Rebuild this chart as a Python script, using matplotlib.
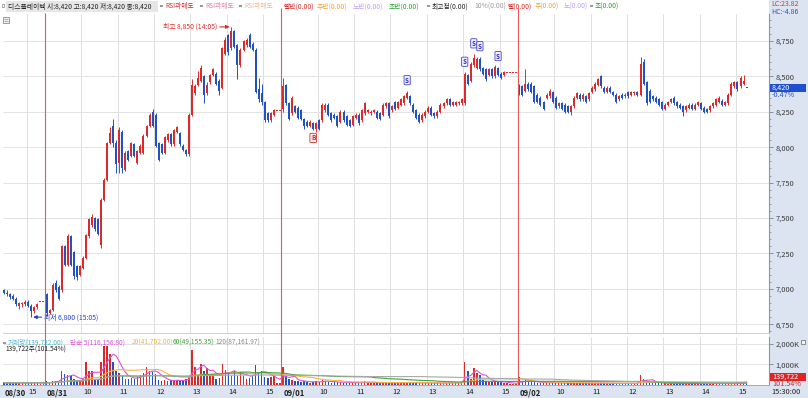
import numpy as np
import pandas as pd
import matplotlib
matplotlib.use("Agg")
import matplotlib.pyplot as plt
import matplotlib.transforms as mtrans
from matplotlib.patches import Rectangle

plt.rcParams['font.family'] = ['Noto Sans CJK KR', 'DejaVu Sans']

# ---------------- data ----------------
day_labels = ["08/30", "08/31", "09/01", "09/02"]

# 5-minute candles (open, high, low, close); 08/30 starts 14:20, others 09:00
aug30 = [(6990,7000,6960,6970),(6970,6990,6950,6960),(6960,6970,6930,6940),(6950,6960,6920,6930),
         (6930,6940,6880,6890),(6880,6910,6860,6900),(6890,6910,6870,6900),(6890,6920,6880,6910),
         (6910,6920,6870,6880),(6880,6890,6800,6840),(6840,6880,6830,6870),(6870,6900,6860,6890),
         (6910,6910,6910,6910),(6910,6910,6910,6910)]

aug31 = [(6960,6970,6810,6830),(6830,6860,6820,6850),(6850,7040,6840,7030),(7040,7060,6980,6990),
         (7010,7030,6920,6930),(6990,7310,6980,7300),(7300,7310,7160,7170),(7170,7390,7160,7370),
         (7370,7380,7160,7170),(7260,7270,7070,7090),(7160,7170,7060,7080),(7100,7170,7090,7160),
         (7150,7230,7140,7220),(7220,7390,7210,7380),(7370,7500,7360,7490),(7450,7530,7440,7510),
         (7500,7510,7410,7420),(7490,7500,7380,7390),(7310,7640,7290,7630),(7630,7780,7620,7770),
         (7770,8040,7760,8030),(8030,8140,8020,8100),(8150,8200,8000,8030),(8030,8050,7820,7880),
         (7890,8140,7820,8120),(8110,8120,7820,7850),(7840,7970,7830,7960),(7970,7980,7900,7910),
         (7940,8040,7930,8030),(8020,8030,7930,7940),(7890,7980,7880,7970),(7960,8020,7950,8010),
         (7960,8090,7950,8080),(8080,8160,8070,8150),(8150,8240,8140,8230),(8250,8270,8140,8150),
         (8230,8240,8000,8010),(8030,8040,7900,7910),(8020,8030,7950,7960),(7960,8080,7950,8070),
         (8050,8100,8040,8090),(8090,8100,8010,8020),(8020,8130,8010,8120),(8110,8150,8100,8140),
         (8100,8110,8010,8020),(8010,8020,7970,7980),(7980,7990,7940,7950),(7950,8240,7940,8230),
         (8230,8480,8220,8440),(8380,8450,8370,8430),(8440,8540,8430,8490),(8470,8580,8460,8560),
         (8500,8510,8310,8370),(8380,8460,8370,8440),(8460,8520,8450,8510),(8510,8560,8500,8550),
         (8520,8530,8440,8450),(8470,8480,8370,8400),(8420,8710,8410,8700),(8660,8780,8650,8760),
         (8790,8800,8650,8670),(8700,8850,8690,8820),(8820,8830,8700,8710),(8720,8730,8480,8580),
         (8580,8700,8570,8690),(8690,8760,8680,8750),(8720,8770,8710,8760),(8790,8810,8700,8710),
         (8730,8740,8680,8690),(8690,8700,8380,8390),(8410,8490,8320,8340),(8380,8450,8300,8320),
         (8320,8330,8180,8190),(8240,8250,8180,8190),(8190,8250,8180,8240),(8230,8270,8220,8260),
         (8260,8260,8260,8260),(8260,8260,8260,8260)]

sep01 = [(8270,8490,8250,8430),(8440,8450,8300,8310),(8310,8320,8190,8200),(8240,8360,8230,8350),
         (8290,8300,8240,8250),(8280,8290,8200,8210),(8260,8270,8190,8200),(8200,8210,8130,8150),
         (8180,8190,8140,8150),(8150,8190,8140,8180),(8170,8180,8120,8130),(8130,8180,8110,8170),
         (8190,8200,8120,8130),(8190,8310,8180,8300),(8260,8310,8250,8300),(8300,8310,8220,8230),
         (8240,8250,8180,8190),(8230,8240,8200,8210),(8220,8230,8140,8150),(8180,8260,8170,8250),
         (8250,8260,8180,8190),(8220,8230,8150,8160),(8190,8200,8140,8150),(8160,8230,8150,8220),
         (8210,8240,8200,8230),(8230,8240,8160,8170),(8190,8270,8180,8260),(8240,8320,8230,8310),
         (8250,8270,8240,8260),(8240,8260,8230,8250),(8250,8270,8240,8260),(8250,8260,8200,8210),
         (8240,8250,8190,8200),(8230,8310,8220,8300),(8290,8320,8280,8310),(8310,8320,8210,8220),
         (8260,8300,8250,8290),(8320,8330,8260,8270),(8280,8330,8270,8320),(8300,8350,8290,8340),
         (8310,8370,8300,8360),(8350,8400,8340,8380),(8360,8370,8300,8310),(8300,8310,8240,8250),
         (8260,8270,8200,8210),(8230,8240,8170,8180),(8190,8240,8180,8230),(8220,8260,8210,8250),
         (8250,8290,8240,8280),(8280,8290,8220,8230),(8240,8250,8210,8220),(8220,8260,8210,8250),
         (8250,8310,8240,8300),(8290,8320,8280,8310),(8310,8350,8300,8340),(8340,8350,8290,8300),
         (8300,8330,8290,8320),(8300,8330,8290,8320),(8310,8330,8300,8320),(8310,8350,8300,8340),
         (8310,8530,8300,8520),(8510,8520,8440,8450),(8470,8600,8460,8590),(8580,8660,8570,8630),
         (8560,8640,8550,8620),(8620,8640,8540,8550),(8560,8570,8510,8520),(8550,8560,8470,8480),
         (8510,8560,8500,8550),(8550,8560,8490,8500),(8500,8580,8490,8570),(8560,8570,8500,8510),
         (8520,8530,8480,8490),(8510,8540,8500,8530),(8530,8530,8530,8530),(8530,8530,8530,8530),
         (8530,8530,8530,8530),(8530,8530,8530,8530)]

sep02 = [(8440,8450,8370,8380),(8430,8440,8360,8370),(8400,8550,8390,8450),(8450,8460,8400,8410),
         (8450,8460,8380,8390),(8430,8440,8310,8320),(8370,8380,8310,8320),(8350,8360,8290,8300),
         (8320,8330,8260,8270),(8350,8380,8340,8370),(8360,8410,8350,8400),(8390,8400,8310,8320),
         (8350,8360,8270,8280),(8290,8320,8280,8310),(8310,8320,8260,8270),(8300,8310,8240,8250),
         (8290,8300,8240,8250),(8250,8300,8230,8290),(8290,8360,8280,8350),(8350,8390,8340,8380),
         (8370,8380,8330,8340),(8340,8380,8330,8370),(8360,8370,8310,8320),(8340,8390,8330,8380),
         (8390,8430,8380,8420),(8410,8460,8400,8450),(8440,8490,8430,8480),(8500,8510,8420,8430),
         (8420,8430,8380,8390),(8390,8430,8380,8420),(8420,8430,8380,8390),(8390,8400,8360,8370),
         (8370,8380,8310,8320),(8340,8370,8330,8360),(8370,8380,8340,8350),(8360,8380,8350,8370),
         (8390,8400,8350,8360),(8370,8400,8360,8390),(8380,8400,8370,8390),(8390,8400,8360,8370),
         (8370,8640,8360,8590),(8600,8620,8440,8450),(8460,8470,8300,8310),(8400,8410,8310,8320),
         (8360,8370,8330,8340),(8350,8360,8310,8320),(8340,8350,8290,8300),(8320,8330,8260,8270),
         (8270,8310,8260,8300),(8300,8330,8290,8320),(8320,8350,8310,8340),(8350,8360,8300,8310),
         (8320,8330,8280,8290),(8300,8310,8270,8280),(8290,8300,8220,8250),(8260,8300,8250,8290),
         (8280,8310,8270,8300),(8300,8310,8260,8270),(8270,8310,8260,8300),(8300,8330,8290,8320),
         (8310,8320,8260,8270),(8280,8290,8240,8250),(8270,8280,8240,8250),(8260,8300,8250,8290),
         (8290,8320,8280,8310),(8300,8350,8290,8340),(8320,8360,8310,8350),(8330,8340,8290,8300),
         (8300,8330,8290,8320),(8310,8380,8300,8370),(8370,8460,8360,8450),(8430,8470,8420,8460),
         (8460,8470,8400,8410),(8430,8500,8420,8490),(8450,8510,8440,8470),(8420,8420,8420,8420)]

# volume per candle (thousand shares)
vol_aug30 = [120,90,130,100,140,90,110,80,120,160,90,110,60,60]
vol_aug31 = [200,150,200,180,170,670,530,480,450,300,250,200,280,1120,700,700,300,300,1100,1900,
             1900,1500,1100,670,600,450,300,300,350,300,420,500,600,900,700,650,550,250,200,250,
             200,250,200,250,200,200,300,450,1700,900,500,1000,700,850,500,550,300,350,1000,750,
             600,450,700,450,650,450,300,350,500,970,650,700,400,350,400,450,120,100]
vol_sep01 = [900,450,300,250,200,180,150,200,150,120,150,200,130,250,180,150,120,130,150,160,
             120,100,110,140,120,100,150,180,120,100,110,100,90,130,100,110,90,100,110,120,
             150,130,110,100,90,120,100,90,110,100,80,90,110,100,120,90,100,110,90,130,
             1100,700,300,850,600,500,250,200,150,170,180,150,140,120,100,60,60,60]
vol_sep02 = [370,200,220,150,160,140,120,110,100,130,100,120,110,90,100,80,90,100,110,100,
             90,80,100,120,110,90,80,100,90,80,70,90,80,70,80,90,70,80,90,80,
             500,280,220,150,120,100,90,80,90,70,80,70,60,80,70,60,70,80,60,70,
             80,70,60,70,80,60,70,60,70,80,90,100,150,120,160,140]

price_ticks = [6750, 7000, 7250, 7500, 7750, 8000, 8250, 8500, 8750]
vol_ticks = [1000, 2000]
hour_labels = ["10", "11", "12", "13", "14", "15"]
ma_periods = [5, 20, 60, 120]
ma_colors = ['#e050d8', '#f2b44a', '#3fa33f', '#a8a8a8']
sell_marks = [("09/01", 41), ("09/01", 60), ("09/01", 63), ("09/01", 65), ("09/01", 71)]
high_label = "최고 8,850 (14:05)"
low_label = "최저 6,800 (15:05)"

# ---------------- assemble ----------------
days = [aug30, aug31, sep01, sep02]
vols = [vol_aug30, vol_aug31, vol_sep01, vol_sep02]
bars = np.array([b for d in days for b in d], dtype=float)
o, h, l, c = bars.T
vol = np.array([v for d in vols for v in d], dtype=float)
x = np.arange(len(c))
day_start = np.cumsum([0] + [len(d) for d in days[:-1]])
prev = np.concatenate([[c[0]], c[:-1]])

RED, BLUE = '#dc2a2a', '#2251c2'
colors = np.where(c > o, RED, np.where(c < o, BLUE, np.where(c >= prev, RED, BLUE)))

W, H = 808, 398
fig = plt.figure(figsize=(W / 100, H / 100), dpi=100)
fig.patch.set_facecolor('white')

def px_axes(x0, y0, x1, y1, **kw):
    return fig.add_axes([x0 / W, 1 - y1 / H, (x1 - x0) / W, (y1 - y0) / H], **kw)

# background panels
bg = px_axes(0, 0, W, H, zorder=-5)
bg.set_xlim(0, W); bg.set_ylim(H, 0); bg.axis('off')
PANEL = '#dbe4f0'
bg.add_patch(Rectangle((769, 0), W - 769, H, facecolor=PANEL, edgecolor='none'))
bg.add_patch(Rectangle((0, 385), 769, H - 385, facecolor=PANEL, edgecolor='none'))

XL = (-0.36, 252.4)
ax = px_axes(3, 14, 769, 333)
vax = px_axes(3, 337, 769, 385)
for a in (ax, vax):
    a.set_xlim(*XL)
    a.set_facecolor('white')
    for s in ('left', 'top'):
        a.spines[s].set_visible(False)
    a.spines['right'].set_color('#8c96a6'); a.spines['right'].set_linewidth(0.8)
    a.spines['bottom'].set_color('#c8c8c8'); a.spines['bottom'].set_linewidth(0.6)

ax.set_ylim(6688, 8941)
vax.set_ylim(0, 2341)

# grid lines
hour_pos = [7.5]
for ds in day_start[1:]:
    hour_pos += [ds + 12 * k - 0.5 for k in range(1, 7)]
day_pos = [ds - 0.5 for ds in day_start[1:]]
for a in (ax, vax):
    a.vlines(hour_pos, 0, 1, transform=a.get_xaxis_transform(), colors='#dedede', lw=0.7, zorder=0)
ax.hlines(price_ticks, *XL, colors='#e2e2e2', lw=0.7, zorder=0)
vax.hlines(vol_ticks, *XL, colors='#e2e2e2', lw=0.7, zorder=0)

# candles
ax.vlines(x, l, h, colors=colors, lw=0.7, zorder=3)
body = np.maximum(np.abs(c - o), 7)
bottom = np.where(np.abs(c - o) < 7, np.minimum(o, c) - 3.5, np.minimum(o, c))
ax.bar(x, body, bottom=bottom, width=0.66, color=colors, linewidth=0, zorder=4)

# volume
vax.bar(x, vol, width=0.5, color=colors, linewidth=0, zorder=3)
vs = pd.Series(vol)
for p, col in zip(ma_periods, ma_colors):
    vax.plot(x, vs.rolling(p, min_periods=1).mean(), color=col, lw=0.8, zorder=4)

# axes ticks (right side)
ax.yaxis.tick_right()
ax.set_yticks(price_ticks, [f"{t:,}" for t in price_ticks])
ax.set_yticks(np.arange(6700, 8950, 50), minor=True)
ax.tick_params(axis='y', which='major', length=3, width=0.6, color='#7a8494', pad=1.5,
               labelsize=5.4, labelcolor='#3a3a3a')
ax.tick_params(axis='y', which='minor', length=1.5, width=0.5, color='#7a8494')
ax.set_xticks([])

vax.yaxis.tick_right()
vax.set_yticks(vol_ticks, [f"{t:,}K" for t in vol_ticks])
vax.tick_params(axis='y', length=3, width=0.6, color='#7a8494', pad=1.5, labelsize=5.4,
                labelcolor='#3a3a3a')

# x tick labels in the bottom band
lab_pos = [XL[0], 7.5]
lab_txt = [day_labels[0], "15"]
for di, ds in enumerate(day_start[1:], start=1):
    lab_pos.append(ds - 0.5); lab_txt.append(day_labels[di])
    for k, hl in enumerate(hour_labels, start=1):
        lab_pos.append(ds + 12 * k - 0.5); lab_txt.append(hl)
vax.set_xticks(lab_pos, lab_txt)
vax.set_xticks(lab_pos[1:], minor=True)
vax.tick_params(axis='x', which='major', length=0, pad=2.2, labelsize=5.5, labelcolor='#222')
vax.tick_params(axis='x', which='minor', length=9.4, width=0.6, color='#9aa8bb')
off = mtrans.ScaledTranslation(2 / 100, 0, fig.dpi_scale_trans)
for t in vax.get_xticklabels():
    t.set_horizontalalignment('left')
    t.set_transform(t.get_transform() + off)
    if '/' in t.get_text():
        t.set_fontweight('bold')

# annotations on the price chart
ihigh = int(np.argmax(h)); ilow = int(np.argmin(l))
ax.annotate(high_label, xy=(ihigh - 0.6, h[ihigh]), xytext=(-9, 0), textcoords='offset points',
            ha='right', va='center', fontsize=4.9, color='#e02828',
            arrowprops=dict(arrowstyle='-|>', color='#e02828', lw=0.8, mutation_scale=5,
                            shrinkA=0, shrinkB=0), zorder=6)
ax.annotate(low_label, xy=(ilow + 0.6, l[ilow]), xytext=(8, 0), textcoords='offset points',
            ha='left', va='center', fontsize=4.9, color='#2040c8',
            arrowprops=dict(arrowstyle='-|>', color='#2040c8', lw=0.8, mutation_scale=5,
                            shrinkA=0, shrinkB=0), zorder=6)
for dname, k in sell_marks:
    i = day_start[day_labels.index(dname)] + k
    ax.annotate('S', xy=(i, h[i]), xytext=(0, 5), textcoords='offset points', ha='center',
                va='bottom', fontsize=4.5, color='#2a2ab8', fontweight='bold',
                bbox=dict(boxstyle='round,pad=0.18', fc='#eeeeff', ec='#4444cc', lw=0.6), zorder=7)
ib = day_start[2] + 10
ax.annotate('B', xy=(ib, l[ib]), xytext=(0, -3), textcoords='offset points', ha='center',
            va='top', fontsize=4.5, color='#d02020', fontweight='bold',
            bbox=dict(boxstyle='round,pad=0.18', fc='#fff0f0', ec='#d03030', lw=0.6), zorder=7)

# overlay (pixel coordinates) for header / labels
ov = px_axes(0, 0, W, H, zorder=20)
ov.set_xlim(0, W); ov.set_ylim(H, 0); ov.axis('off'); ov.patch.set_alpha(0)

# day separator lines
for dp in day_pos:
    xp = ax.transData.transform((dp, 0))[0]
    ov.vlines(xp, 8 if dp > 20 else 13, 385, colors='#e05a5a', lw=0.8)

# header row
FS = 4.85
ov.add_patch(Rectangle((1.5, 4.2), 2.8, 2.8, facecolor='none', edgecolor='#888', lw=0.5))
ov.add_patch(Rectangle((6, 0.5), 152, 11, facecolor='#e6e6e6', edgecolor='none'))
ov.text(8, 6.2, "디스플레이텍 시:8,420 고:8,420 저:8,420 종:8,420", fontsize=FS, color='#222', va='center')
hdr = [(165, "RSI과매도", '#e02828'), (205, "RSI과매도", '#f07aa0'), (244, "RSI과매도", '#f4b497'),
       (284, "빨반(0.00)", '#e02828'), (317, "주반(0.00)", '#f0a030'), (353, "노반(0.00)", '#bba2ee'),
       (389, "초반(0.00)", '#2d9a2d'), (432, "최고점(0.00)", '#222222'), (474, "10%(0.00)", '#9a9a9a'),
       (507, "빨(0.00)", '#e02828'), (535, "주(0.00)", '#f0a030'), (564, "노(0.00)", '#bba2ee'),
       (595, "초(0.00)", '#2d9a2d')]
for xp, txt, col in hdr:
    ov.text(xp, 6.2, txt, fontsize=FS, color=col, va='center')
for xp in (160, 200, 239, 427, 590):
    ov.add_patch(Rectangle((xp, 4.7), 2.6, 2.6, facecolor='#999', edgecolor='none'))
ov.text(771, 4, "LC:23.82", fontsize=5.0, color='#d83030', va='center')
ov.text(771, 11.5, "HC:-4.86", fontsize=5.0, color='#2a50c8', va='center')
ov.add_patch(Rectangle((2.5, 17), 6, 6, facecolor='#f2f2f2', edgecolor='#777', lw=0.5))
ov.hlines([19, 21], 3.5, 7.5, colors='#777', lw=0.4)

# current price tag
ycur = H - ax.transData.transform((0, c[-1]))[1]
ov.add_patch(Rectangle((770, ycur - 4), 36, 8, facecolor='#1e4fd0', edgecolor='none'))
ov.text(772, ycur, f"{int(c[-1]):,}", fontsize=5.2, color='white', va='center')
ov.text(772, ycur + 7, "-0.47%", fontsize=5.2, color='#2a50c8', va='center')

# volume legend
FV = 4.8
ov.add_patch(Rectangle((3, 341.8), 2.6, 2.6, facecolor='#999', edgecolor='none'))
vleg = [(8, "거래량(139,722.00)", '#48b4cc'), (70, "단순 5(116,156.80)", ma_colors[0]),
        (132, "20(41,702.00)", ma_colors[1]), (173, "60(49,155.35)", ma_colors[2]),
        (215, "120(87,161.97)", '#8a8a8a')]
for xp, txt, col in vleg:
    ov.text(xp, 343, txt, fontsize=FV, color=col, va='center')
ov.text(5, 350, "139,722주(101.54%)", fontsize=FV, color='#222', va='center')
ov.add_patch(Rectangle((770, 372.5), 36, 8, facecolor='#e02424', edgecolor='none'))
ov.text(772, 376.5, "139,722", fontsize=5.2, color='white', va='center')
ov.text(772, 383.5, "101.54%", fontsize=5.2, color='#e02424', va='center')
ov.add_patch(Rectangle((801, 340), 4, 4, facecolor='#f2f2f2', edgecolor='#666', lw=0.5))
ov.text(771, 391.5, "15:30:00", fontsize=5.4, color='#222', va='center')
ov.hlines(385, 0, 769, colors='#9aa8bb', lw=0.6)

fig.savefig("out.png", dpi=100, facecolor='white')
